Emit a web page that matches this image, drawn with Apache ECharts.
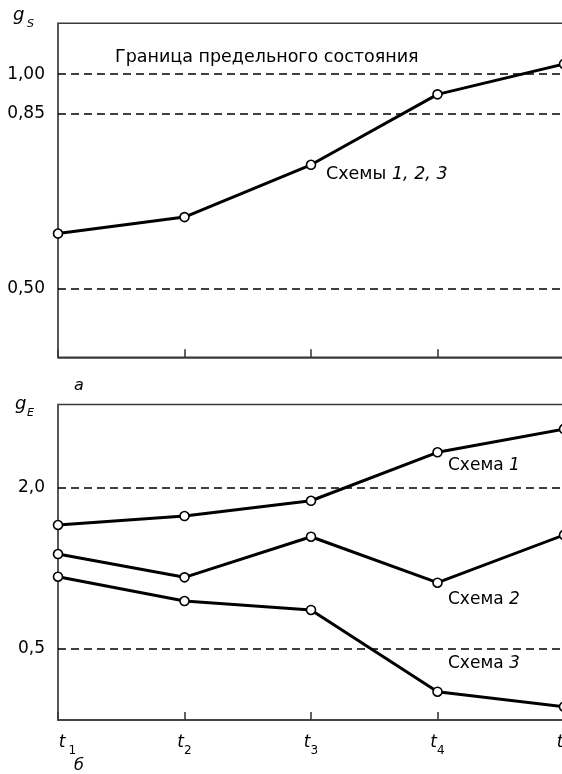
<!DOCTYPE html>
<html>
<head>
<meta charset="utf-8">
<script src="https://cdn.jsdelivr.net/npm/echarts@6/dist/echarts.min.js"></script>
<style>
html,body{margin:0;padding:0;background:#fff;}
#chart{width:562px;height:774px;}
</style>
</head>
<body>
<div id="chart"></div>
<script>
// ---- data ----
const categories = ['t1', 't2', 't3', 't4', 't5'];
const xSubscripts = ['1', '2', '3', '4', '5'];
const gS = [0.61, 0.643, 0.748, 0.929, 1.051];            // Схемы 1, 2, 3
const gE1 = [1.652, 1.735, 1.877, 2.327, 2.543];          // Схема 1
const gE2 = [1.382, 1.166, 1.543, 1.116, 1.559];          // Схема 2
const gE3 = [1.172, 0.946, 0.863, 0.104, -0.035];         // Схема 3
const gSTickValues = [1.00, 0.85, 0.50];
const gSTickLabels = ['1,00', '0,85', '0,50'];
const gETickValues = [2.0, 0.5];
const gETickLabels = ['2,0', '0,5'];

// top axis of the original is piecewise-linear: the span above 0.85 is drawn at half scale
const BREAK = 0.85, UPPER_K = 0.5;
function topScale(v) { return v <= BREAK ? v : BREAK + (v - BREAK) * UPPER_K; }
const TOP_MIN = 0.3614, TOP_MAX = 1.2144;
const BOT_MIN = -0.159, BOT_MAX = 2.771;

const FONT = 'DejaVu Sans';
const chart = echarts.init(document.getElementById('chart'), null, {renderer: 'canvas'});

const lineStyle = {color: '#000', width: 3};
const itemStyle = {color: '#fff', borderColor: '#000', borderWidth: 1.6};
const dashStyle = {color: '#000', width: 1.5, type: [8, 5]};
const refLabel = {show: true, position: 'start', distance: 13, formatter: '{b}', color: '#000', fontSize: 17, fontFamily: FONT};

function mkSeries(data, xi, yi, markLine) {
  const s = {
    type: 'line', xAxisIndex: xi, yAxisIndex: yi, data: data,
    symbol: 'circle', symbolSize: 9, showSymbol: true,
    lineStyle: lineStyle, itemStyle: itemStyle, clip: false, z: 5,
    emphasis: {disabled: true}
  };
  if (markLine) s.markLine = markLine;
  return s;
}

const axisLineStyle = {color: '#3a3a3a', width: 1.6};

const option = {
  animation: false,
  backgroundColor: '#fff',
  grid: [
    {left: 58, right: -2, top: 23.3, height: 334, outerBoundsMode: 'none', containLabel: false, show: true, borderColor: '#3a3a3a', borderWidth: 1.6, backgroundColor: 'transparent'},
    {left: 58, right: -2, top: 404.5, height: 315.5, outerBoundsMode: 'none', containLabel: false, show: true, borderColor: '#3a3a3a', borderWidth: 1.6, backgroundColor: 'transparent'}
  ],
  xAxis: [
    {gridIndex: 0, type: 'category', data: categories, boundaryGap: false,
     axisLine: {show: true, onZero: false, lineStyle: axisLineStyle},
     axisTick: {show: true, inside: true, length: 8, lineStyle: axisLineStyle},
     axisLabel: {show: false}, splitLine: {show: false}},
    {gridIndex: 1, type: 'category', data: categories, boundaryGap: false,
     axisLine: {show: true, onZero: false, lineStyle: axisLineStyle},
     axisTick: {show: true, inside: true, length: 8, lineStyle: axisLineStyle},
     axisLabel: {
       show: true, interval: 0, margin: 17, showMaxLabel: true, showMinLabel: true, hideOverlap: false,
       formatter: function (v, i) {
         return i === 0 ? '{sp|}{t|t}{s1|' + xSubscripts[i] + '}' : '{t|t}{s|' + xSubscripts[i] + '}';
       },
       rich: {
         sp: {width: 19, lineHeight: 20},
         t: {fontStyle: 'italic', fontSize: 17, fontFamily: FONT, color: '#000', lineHeight: 20, padding: [0, 0, 8, 0]},
         s: {fontSize: 12, fontFamily: FONT, color: '#000', lineHeight: 14, padding: [8, 0, 0, 0]},
         s1: {fontSize: 12, fontFamily: FONT, color: '#000', lineHeight: 14, padding: [8, 0, 0, 3]}
       }
     },
     splitLine: {show: false}}
  ],
  yAxis: [
    {gridIndex: 0, type: 'value', min: topScale(TOP_MIN), max: topScale(TOP_MAX),
     axisLine: {show: true, onZero: false, lineStyle: {color: '#555', width: 1.6}}, axisTick: {show: false},
     axisLabel: {show: false}, splitLine: {show: false}},
    {gridIndex: 1, type: 'value', min: BOT_MIN, max: BOT_MAX,
     axisLine: {show: true, onZero: false, lineStyle: {color: '#555', width: 1.6}}, axisTick: {show: false},
     axisLabel: {show: false}, splitLine: {show: false}}
  ],
  series: [
    mkSeries(gS.map(topScale), 0, 0, {
      silent: true, symbol: ['none', 'none'], lineStyle: dashStyle, label: refLabel,
      data: gSTickValues.map((v, i) => ({yAxis: topScale(v), name: gSTickLabels[i]}))
    }),
    mkSeries(gE1, 1, 1, {
      silent: true, symbol: ['none', 'none'], lineStyle: dashStyle, label: refLabel,
      data: gETickValues.map((v, i) => ({yAxis: v, name: gETickLabels[i]}))
    }),
    mkSeries(gE2, 1, 1),
    mkSeries(gE3, 1, 1)
  ],
  graphic: [
    {type: 'text', x: 13, y: 15.6, style: {text: 'g', fontStyle: 'italic', fontSize: 18, fontFamily: FONT, fill: '#000', verticalAlign: 'middle', align: 'left'}},
    {type: 'text', x: 27, y: 24.2, style: {text: 'S', fontStyle: 'italic', fontSize: 11, fontFamily: FONT, fill: '#000', verticalAlign: 'middle', align: 'left'}},
    {type: 'text', x: 15, y: 404.6, style: {text: 'g', fontStyle: 'italic', fontSize: 18, fontFamily: FONT, fill: '#000', verticalAlign: 'middle', align: 'left'}},
    {type: 'text', x: 27, y: 413.2, style: {text: 'E', fontStyle: 'italic', fontSize: 11, fontFamily: FONT, fill: '#000', verticalAlign: 'middle', align: 'left'}},
    {type: 'text', x: 115, y: 57, style: {text: 'Граница предельного состояния', fontSize: 17.5, fontFamily: FONT, fill: '#000', verticalAlign: 'middle', align: 'left'}},
    {type: 'text', x: 326, y: 174, style: {text: 'Схемы {i|1, 2, 3}', fontSize: 17.5, fontFamily: FONT, fill: '#000', verticalAlign: 'middle', align: 'left',
      rich: {i: {fontStyle: 'italic', fontSize: 17.5, fontFamily: FONT, fill: '#000'}}}},
    {type: 'text', x: 448, y: 466, style: {text: 'Схема {i|1}', fontSize: 17, fontFamily: FONT, fill: '#000', verticalAlign: 'middle', align: 'left',
      rich: {i: {fontStyle: 'italic', fontSize: 17, fontFamily: FONT, fill: '#000'}}}},
    {type: 'text', x: 448, y: 600, style: {text: 'Схема {i|2}', fontSize: 17, fontFamily: FONT, fill: '#000', verticalAlign: 'middle', align: 'left',
      rich: {i: {fontStyle: 'italic', fontSize: 17, fontFamily: FONT, fill: '#000'}}}},
    {type: 'text', x: 448, y: 664, style: {text: 'Схема {i|3}', fontSize: 17, fontFamily: FONT, fill: '#000', verticalAlign: 'middle', align: 'left',
      rich: {i: {fontStyle: 'italic', fontSize: 17, fontFamily: FONT, fill: '#000'}}}},
    {type: 'text', x: 74, y: 386, style: {text: 'а', fontStyle: 'italic', fontSize: 16, fontFamily: FONT, fill: '#000', verticalAlign: 'middle', align: 'left'}},
    {type: 'text', x: 74, y: 766, style: {text: 'б', fontStyle: 'italic', fontSize: 16, fontFamily: FONT, fill: '#000', verticalAlign: 'middle', align: 'left'}}
  ]
};
chart.setOption(option);
</script>
</body>
</html>
